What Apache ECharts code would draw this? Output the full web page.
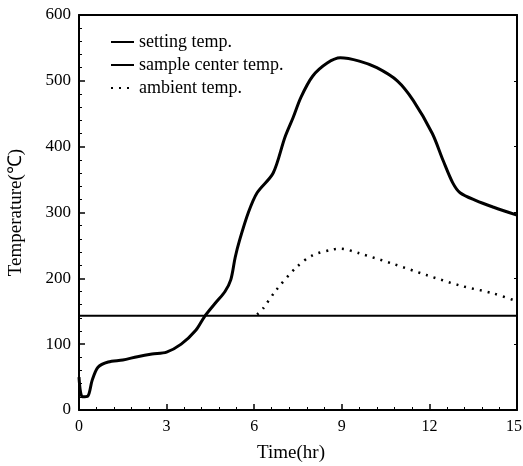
<!DOCTYPE html>
<html><head><meta charset="utf-8">
<script src="https://cdn.jsdelivr.net/npm/echarts@6/dist/echarts.min.js"></script>
<style>html,body{margin:0;padding:0;background:#fff}#c{width:523px;height:466px}</style>
</head><body><div id="c"></div>
<script>
const seriesNames = ['setting temp.', 'sample center temp.', 'ambient temp.'];
const xTicks = [0, 3, 6, 9, 12, 15];
const yTicks = [0, 100, 200, 300, 400, 500, 600];
const settingTemp = [[0, 143], [15, 143]];
const centerTemp = [[0, 50], [0.05, 28], [0.12, 20], [0.3, 21], [0.45, 45], [0.65, 65], [1.0, 73], [1.5, 76], [2.0, 81], [2.5, 85], [3.0, 88], [3.5, 100], [4.0, 121], [4.3, 142], [4.7, 164], [5.0, 180], [5.2, 198], [5.35, 232], [5.5, 258], [5.8, 300], [6.1, 330], [6.65, 360], [7.05, 414], [7.33, 444], [7.6, 475], [8.0, 507], [8.5, 527], [8.95, 535], [9.6, 530], [10.2, 520], [10.9, 500], [11.45, 470], [12.1, 420], [12.47, 379], [12.8, 345], [13.05, 330], [13.6, 318], [14.2, 308], [15, 296]];
const ambientTemp = [[6.1, 145], [6.3, 154], [6.75, 182], [7.45, 217], [8.0, 235], [8.7, 244], [8.95, 245], [9.6, 238], [10.75, 222], [11.9, 205], [13.05, 189], [14.2, 177], [15, 165]];

const font = 'Liberation Serif';
const chart = echarts.init(document.getElementById('c'));
const baseAxis = {
  axisLine: {show: true, onZero: false, lineStyle: {color: '#000', width: 2}},
  axisTick: {show: true, inside: true, length: 6, lineStyle: {color: '#000', width: 1.5}},
  minorTick: {show: true, splitNumber: 5, length: 3, lineStyle: {color: '#000', width: 1}},
  splitLine: {show: false}
};
const xMax = xTicks[xTicks.length - 1];
chart.setOption({
  animation: false,
  grid: {left: 79, right: 6, top: 15, bottom: 56, show: false, containLabel: false, outerBoundsMode: 'none'},
  legend: {
    orient: 'vertical', left: 105, top: 28, itemGap: 5, itemWidth: 23, itemHeight: 14,
    data: seriesNames,
    itemStyle: {opacity: 0},
    textStyle: {fontFamily: font, fontSize: 18, color: '#000', padding: [2, 0, 0, 0]}
  },
  xAxis: [
    Object.assign({}, baseAxis, {
      type: 'value', min: 0, max: xMax, interval: 3,
      name: 'Time(hr)', nameLocation: 'middle', nameGap: 34,
      nameTextStyle: {fontFamily: font, fontSize: 19, color: '#000', padding: [0, 14, 0, 0]},
      axisLabel: {fontFamily: font, fontSize: 16, color: '#000', margin: 9,
        formatter: v => xTicks.includes(v) ? (v === xMax ? '{e|' + v + '}' : String(v)) : '',
        rich: {e: {fontFamily: font, fontSize: 16, color: '#000', width: 10, align: 'right'}}}
    }),
    Object.assign({}, baseAxis, {
      type: 'value', min: 0, max: xMax, interval: 3, position: 'top',
      axisLabel: {show: false}, axisTick: {show: false}, minorTick: {show: false}
    })
  ],
  yAxis: [
    Object.assign({}, baseAxis, {
      type: 'value', min: 0, max: 600, interval: 100,
      name: 'Temperature(℃)', nameLocation: 'middle', nameGap: 53, nameRotate: 90,
      nameTextStyle: {fontFamily: font, fontSize: 19, color: '#000'},
      axisLabel: {fontFamily: font, fontSize: 17, color: '#000', margin: 8,
        formatter: v => yTicks.includes(v) ? String(v) : ''}
    }),
    Object.assign({}, baseAxis, {
      type: 'value', min: 0, max: 600, interval: 100, position: 'right',
      axisLabel: {show: false}, axisTick: {show: true, inside: true, length: 3, lineStyle: {color: '#000'}},
      minorTick: {show: false}
    })
  ],
  series: [
    {name: seriesNames[0], type: 'line', data: settingTemp, symbol: 'none',
      lineStyle: {color: '#000', width: 2}, itemStyle: {color: '#000'}},
    {name: seriesNames[1], type: 'line', data: centerTemp, symbol: 'none', smooth: 0.3,
      lineStyle: {color: '#000', width: 3}, itemStyle: {color: '#000'}},
    {name: seriesNames[2], type: 'line', data: ambientTemp, symbol: 'none', smooth: 0.3,
      lineStyle: {color: '#000', width: 2.5, type: [2, 6]}, itemStyle: {color: '#000'}}
  ]
});
</script></body></html>
